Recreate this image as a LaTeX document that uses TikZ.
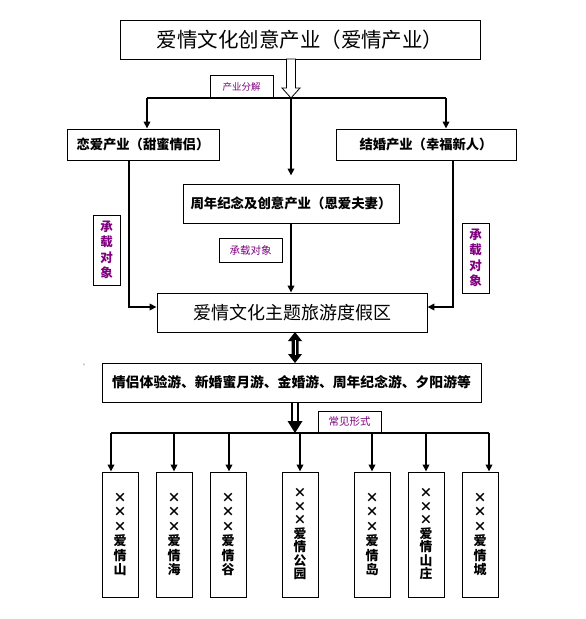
\documentclass[tikz,border=0pt]{standalone}
\usepackage{fontspec}
\newfontfamily\cjk{Noto Sans CJK SC}
\usetikzlibrary{arrows.meta}
\definecolor{lblpurple}{RGB}{128,0,128}
\begin{document}
\begin{tikzpicture}[x=1pt,y=-1pt,
  box/.style={draw,line width=0.9pt,inner sep=0pt,font=\cjk},
  lbl/.style={draw,line width=0.8pt,inner sep=0pt,text=lblpurple,font=\cjk\fontsize{9.5}{11}\selectfont},
  vlbl/.style={draw,line width=0.8pt,inner sep=0pt,text=lblpurple,align=center,font=\cjk\bfseries\fontsize{12.5}{15.5}\selectfont},
  leaf/.style={draw,line width=0.9pt,inner sep=0pt,minimum width=36pt,minimum height=125pt,align=center,font=\cjk\bfseries\fontsize{13}{14.5}\selectfont},
  conn/.style={line width=1.8pt},
  arr/.style={line width=1.8pt,-{Triangle[length=7pt,width=6.5pt]}},
]
\useasboundingbox[fill=white] (0,0) rectangle (586,619);

% boxes
\node[box,minimum width=360pt,minimum height=39pt,font=\cjk\fontsize{20.5}{24}\selectfont] (top) at (300,39.5) {爱情文化创意产业（爱情产业）};
\node[box,minimum width=152pt,minimum height=31pt,font=\cjk\bfseries\fontsize{13.3}{16}\selectfont] (left) at (143,144.5) {恋爱产业（甜蜜情侣）};
\node[box,minimum width=180pt,minimum height=31pt,font=\cjk\bfseries\fontsize{13.3}{16}\selectfont] (right) at (426,144.5) {结婚产业（幸福新人）};
\node[box,minimum width=216pt,minimum height=39pt,font=\cjk\bfseries\fontsize{13.4}{16}\selectfont] (mid) at (291,203.5) {周年纪念及创意产业（恩爱夫妻）};
\node[box,minimum width=270pt,minimum height=39pt,font=\cjk\fontsize{18}{22}\selectfont] (main) at (292,312.5) {爱情文化主题旅游度假区};
\node[box,minimum width=379pt,minimum height=39pt,font=\cjk\bfseries\fontsize{13.8}{16}\selectfont] (tours) at (291.5,382.5) {情侣体验游、新婚蜜月游、金婚游、周年纪念游、夕阳游等};

% labels
\node[lbl,minimum width=63pt,minimum height=23pt] (l1) at (241.5,86.5) {产业分解};
\node[lbl,minimum width=63pt,minimum height=24pt,font=\cjk\fontsize{10.5}{12}\selectfont] (l2) at (250.5,250) {承载对象};
\node[lbl,minimum width=63pt,minimum height=22pt,font=\cjk\fontsize{10.5}{12}\selectfont] (l3) at (349.5,422) {常见形式};
\node[vlbl,minimum width=27pt,minimum height=70pt] (vl) at (106.5,250) {承\\载\\对\\象};
\node[vlbl,minimum width=27pt,minimum height=70pt] (vr) at (475.5,258) {承\\载\\对\\象};
\node[text=gray,font=\cjk\fontsize{7}{8}\selectfont,inner sep=0pt] (mark) at (86,365) {、};

% leaves
\node[leaf] (b1) at (120,534.5) {×\\×\\×\\爱\\情\\山};
\node[leaf] (b2) at (174,534.5) {×\\×\\×\\爱\\情\\海};
\node[leaf] (b3) at (228,534.5) {×\\×\\×\\爱\\情\\谷};
\node[leaf,font=\cjk\bfseries\fontsize{12.8}{13.5}\selectfont] (b4) at (300,534.5) {×\\×\\×\\爱\\情\\公\\园};
\node[leaf] (b5) at (372,534.5) {×\\×\\×\\爱\\情\\岛};
\node[leaf,font=\cjk\bfseries\fontsize{12.8}{13.5}\selectfont] (b6) at (426,534.5) {×\\×\\×\\爱\\情\\山\\庄};
\node[leaf] (b7) at (480,534.5) {×\\×\\×\\爱\\情\\城};

% hollow arrow from top box
\coordinate (hs) at (291,59);
\coordinate (hb) at (291,98);
\draw[line width=0.8pt,fill=white] ([xshift=-4.5pt]hs) -- ([xshift=-4.5pt]hs |- 0,88) -- ([xshift=-9pt]hs |- 0,88) -- (hb) -- ([xshift=9pt]hs |- 0,88) -- ([xshift=4.5pt]hs |- 0,88) -- ([xshift=4.5pt]hs) -- cycle;

% distribution line
\coordinate (jL) at (147,98);
\coordinate (jR) at (446,98);
\draw[conn] (jL) -- (jR);
\draw[arr] (jL) -- (jL |- left.north);
\draw[arr] (jR) -- (jR |- right.north);
\draw[arr,shorten >=8pt] (hb) -- (hb |- mid.north);

% side feeds into main
\coordinate (sL) at (129,160);
\coordinate (cL) at (129,307);
\coordinate (sR) at (453,160);
\coordinate (cR) at (453,307);
\draw[arr] (sL) -- (cL) -- (cL -| main.west);
\draw[arr] (sR) -- (cR) -- (cR -| main.east);
\draw[arr] (mid.south -| hb) -- (main.north -| hb);

% double-headed arrow main <-> tours
\coordinate (da) at (295,332);
\coordinate (db) at (295,363);
\fill ([xshift=0pt]da) -- ([xshift=7pt]da |- 0,341) -- ([xshift=3.5pt]da |- 0,341) -- ([xshift=3.5pt]db |- 0,354) -- ([xshift=7pt]db |- 0,354) -- (db) -- ([xshift=-7pt]db |- 0,354) -- ([xshift=-3.5pt]db |- 0,354) -- ([xshift=-3.5pt]da |- 0,341) -- ([xshift=-7pt]da |- 0,341) -- cycle;
\draw[white,line width=0.8pt] (295,340) -- (295,355);

% double-line arrow tours -> bus
\coordinate (ts) at (295,402);
\coordinate (bs) at (295,433);
\draw[line width=1.1pt] ([xshift=-3pt]ts) -- ([xshift=-3pt]ts |- 0,423);
\draw[line width=1.1pt] ([xshift=3pt]ts) -- ([xshift=3pt]ts |- 0,423);
\fill (bs) -- ([xshift=-7.5pt]bs |- 0,421) -- ([xshift=7.5pt]bs |- 0,421) -- cycle;

% bus and leaf arrows
\coordinate (k1) at (111,433);
\coordinate (k2) at (174,433);
\coordinate (k3) at (229,433);
\coordinate (k4) at (300,433);
\coordinate (k5) at (372,433);
\coordinate (k6) at (426,433);
\coordinate (k7) at (489,433);
\draw[conn] (k1) -- (k7);
\draw[arr] (k1) -- (k1 |- b1.north);
\draw[arr] (k2) -- (k2 |- b2.north);
\draw[arr] (k3) -- (k3 |- b3.north);
\draw[arr] (k4) -- (k4 |- b4.north);
\draw[arr] (k5) -- (k5 |- b5.north);
\draw[arr] (k6) -- (k6 |- b6.north);
\draw[arr] (k7) -- (k7 |- b7.north);
\end{tikzpicture}
\end{document}
